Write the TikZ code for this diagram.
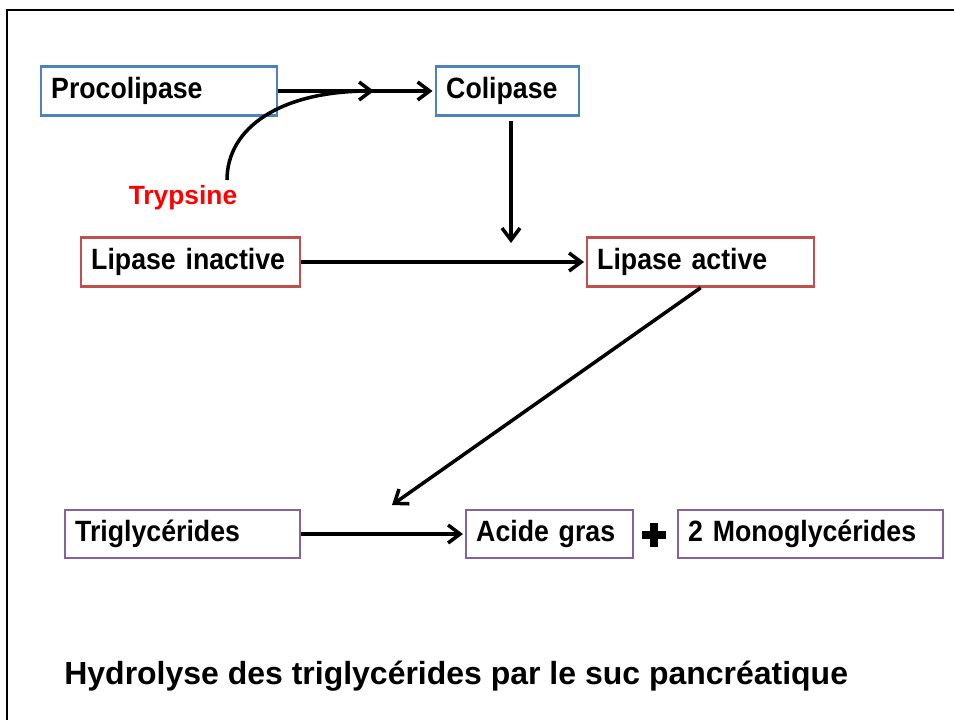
\documentclass[tikz,border=0pt]{standalone}
\usepackage{fontspec}
\setmainfont{Liberation Sans}
\newfontfamily\narrowfont[FakeStretch=0.91, WordSpace=0.75]{Liberation Sans}
\usetikzlibrary{arrows.meta, positioning}
\definecolor{boxblue}{RGB}{79,129,189}
\definecolor{boxred}{RGB}{192,80,77}
\definecolor{boxpurple}{RGB}{128,100,162}
\tikzstyle{box} = [rectangle, line width=1.4pt, minimum height=0.98cm, inner xsep=0.2cm, anchor=west, align=left, font=\narrowfont\bfseries\fontsize{16.7}{18}\selectfont]
\tikzstyle{colibox} = [box, draw=boxblue]
\tikzstyle{lipbox} = [box, draw=boxred]
\tikzstyle{tgbox} = [box, draw=boxpurple, minimum height=0.96cm]
\tikzstyle{arrow} = [line width=2pt, -{Straight Barb[length=0.24cm, width=0.36cm]}]

\begin{document}
\begin{tikzpicture}[x=0.02cm, y=-0.02cm]
\useasboundingbox (0,0) rectangle (954,720);
\draw [line width=1.3pt] (7,720) -- (7,10) -- (954,10);

% Nodes
\node (proco) [colibox, text width=4.32cm] at (40,91) {Procolipase};
\node (coli) [colibox, text width=2.46cm] at (435,91) {Colipase};
\node (tryp) [text=red, font=\bfseries\fontsize{15}{17}\selectfont] at (183,198) {Trypsine};
\node (lipin) [lipbox, text width=3.98cm] at (80,262) {Lipase inactive};
\node (lipact) [lipbox, text width=4.14cm] at (586,262) {Lipase active};
\node (trig) [tgbox, text width=4.3cm] at (64,534) {Triglycérides};
\node (acide) [tgbox, text width=2.94cm] at (465,534) {Acide gras};
\node (mono) [tgbox, text width=4.9cm] at (677,534) {2 Monoglycérides};
\node (title) [anchor=base west, inner sep=0pt, font=\bfseries\fontsize{18.2}{20}\selectfont] at (64,684) {Hydrolyse des triglycérides par le suc pancréatique};

% plus sign between the products
\coordinate (plus) at (654,535);
\fill ([shift={(-12,-4)}]plus) rectangle ([shift={(12,4)}]plus);
\fill ([shift={(-4,-12)}]plus) rectangle ([shift={(4,12)}]plus);

\coordinate (cstart) at (227,180);
\coordinate (cend) at (374,91);
\coordinate (vend) at (511,243);
\coordinate (dend) at (392,505);

% Arrows
\draw [arrow, shorten >=0.05cm] (proco.east) -- (coli.west);
\draw [arrow] (cstart) .. controls (227,128) and (280,91) .. (cend);
\draw [arrow, shorten <=0.08cm] (coli.south -| vend) -- (vend);
\draw [arrow, shorten >=0.04cm] (lipin.east) -- (lipact.west);
\draw [arrow] (lipact.south) -- (dend);
\draw [arrow, shorten >=0.04cm] (trig.east) -- (acide.west);

\end{tikzpicture}
\end{document}
